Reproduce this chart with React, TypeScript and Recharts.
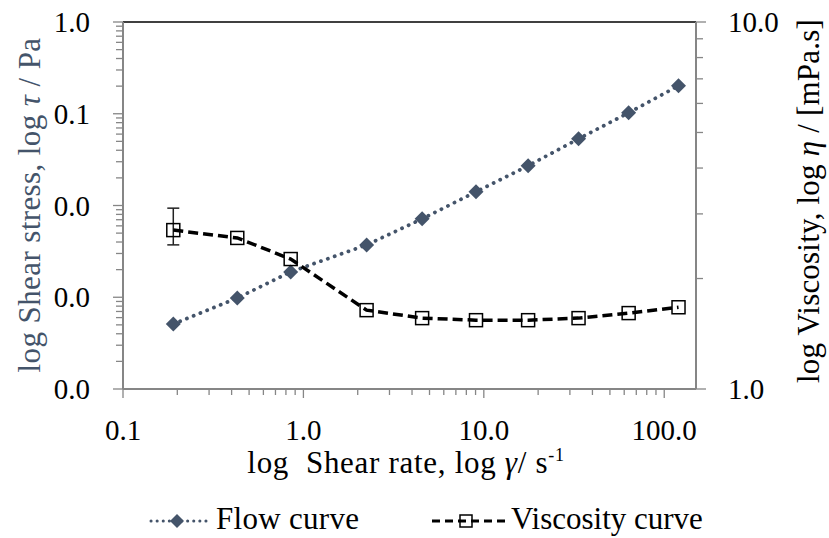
import React from 'react'
import { ComposedChart, Line, XAxis, YAxis, ErrorBar, ReferenceLine } from 'recharts'

// measured points, shared x values for both curves
const shearRate = [0.19, 0.43, 0.85, 2.24, 4.55, 9.05, 17.6, 33.5, 63.5, 120]
const shearStress = [0.00051, 0.00098, 0.00189, 0.00372, 0.00715, 0.0141, 0.0271, 0.0533, 0.1025, 0.2018]
const viscosity = [2.71, 2.58, 2.26, 1.64, 1.56, 1.54, 1.54, 1.56, 1.61, 1.67]
// [below, above] error for the viscosity points (only the first one has a bar)
const viscosityError: (number[] | null)[] = [[0.24, 0.4], null, null, null, null, null, null, null, null, null]

const xMajor = [0.1, 1, 10, 100]
const stressMajor = [0.0001, 0.001, 0.01, 0.1, 1]
const viscMajor = [1, 10]
const minorSteps = [2, 3, 4, 5, 6, 7, 8, 9]

const FONT = '"Palatino Linotype", "Book Antiqua", Palatino, "Liberation Serif", serif'
const AXIS = '#868686'
const FLOW = '#44546A'

const withMinor = (majors: number[], max: number) => {
  const out: number[] = []
  majors.forEach((m) => {
    out.push(m)
    minorSteps.forEach((s) => {
      const v = m * s
      if (v < max) out.push(v)
    })
  })
  return out.filter((v) => v <= max)
}

const xTicks = withMinor(xMajor, 150)
const stressTicks = withMinor(stressMajor, 1)
const viscTicks = withMinor(viscMajor, 10)

const data = shearRate.map((x, i) => ({
  rate: x,
  stress: shearStress[i],
  visc: viscosity[i],
  viscErr: viscosityError[i],
}))

const isMajor = (list: number[], v: number) => list.some((m) => Math.abs(m - v) / m < 1e-9)

const BottomTick = (props: any) => {
  const { x, y, payload } = props
  const major = isMajor(xMajor, payload.value)
  return (
    <g>
      <line x1={x} x2={x} y1={y} y2={y + (major ? 9 : 6)} stroke={AXIS} strokeWidth={1.3} />
      {major && (
        <text x={x} y={y + 51} textAnchor="middle" fontFamily={FONT} fontSize={29} fill="#000">
          {payload.value.toFixed(1)}
        </text>
      )}
    </g>
  )
}

const LeftTick = (props: any) => {
  const { x, y, payload } = props
  const major = isMajor(stressMajor, payload.value)
  return (
    <g>
      <line x1={x - (major ? 10 : 7)} x2={x} y1={y} y2={y} stroke={AXIS} strokeWidth={1.3} />
      {major && (
        <text x={x - 33} y={y + 10} textAnchor="end" fontFamily={FONT} fontSize={29} fill="#000">
          {payload.value.toFixed(1)}
        </text>
      )}
    </g>
  )
}

const RightTick = (props: any) => {
  const { x, y, payload } = props
  const major = isMajor(viscMajor, payload.value)
  return (
    <g>
      <line x1={x} x2={x + (major ? 10 : 7)} y1={y} y2={y} stroke={AXIS} strokeWidth={1.3} />
      {major && (
        <text x={x + 32} y={y + 10} textAnchor="start" fontFamily={FONT} fontSize={29} fill="#000">
          {payload.value.toFixed(1)}
        </text>
      )}
    </g>
  )
}

const Diamond = ({ cx, cy, r = 7.5 }: { cx: number; cy: number; r?: number }) => (
  <path d={`M${cx},${cy - r}L${cx + r},${cy}L${cx},${cy + r}L${cx - r},${cy}Z`} fill={FLOW} />
)

const Square = ({ cx, cy, r = 6.5 }: { cx: number; cy: number; r?: number }) => (
  <rect x={cx - r} y={cy - r} width={r * 2} height={r * 2} fill="none" stroke="#000" strokeWidth={1.5} />
)

export default function App() {
  return (
    <div style={{ position: 'absolute', left: 0, top: 0, width: 829, height: 538, background: '#fff' }}>
      <ComposedChart width={829} height={538} data={data} margin={{ top: 22, right: 0, bottom: 0, left: 0 }}>
        <XAxis
          dataKey="rate"
          type="number"
          scale="log"
          domain={[0.1, 150]}
          allowDataOverflow
          ticks={xTicks}
          interval={0}
          tick={<BottomTick />}
          tickLine={false}
          tickSize={0}
          tickMargin={0}
          height={149}
          axisLine={{ stroke: AXIS, strokeWidth: 2 }}
        />
        <YAxis
          yAxisId="left"
          type="number"
          scale="log"
          domain={[0.0001, 1]}
          allowDataOverflow
          ticks={stressTicks}
          interval={0}
          tick={<LeftTick />}
          tickLine={false}
          tickSize={0}
          tickMargin={0}
          width={123}
          axisLine={{ stroke: AXIS, strokeWidth: 2 }}
        />
        <YAxis
          yAxisId="right"
          orientation="right"
          type="number"
          scale="log"
          domain={[1, 10]}
          allowDataOverflow
          ticks={viscTicks}
          interval={0}
          tick={<RightTick />}
          tickLine={false}
          tickSize={0}
          tickMargin={0}
          width={133}
          axisLine={{ stroke: AXIS, strokeWidth: 2 }}
        />
        <ReferenceLine yAxisId="left" y={1} stroke="#000" strokeWidth={1.5} />
        <Line
          yAxisId="left"
          dataKey="stress"
          stroke={FLOW}
          strokeWidth={3.8}
          strokeDasharray="0.1 7.2"
          strokeLinecap="round"
          isAnimationActive={false}
          dot={(p: any) => <Diamond key={`d${p.index}`} cx={p.cx} cy={p.cy} />}
          activeDot={false}
        />
        <Line
          yAxisId="right"
          dataKey="visc"
          stroke="#000"
          strokeWidth={3.5}
          strokeDasharray="10 5"
          isAnimationActive={false}
          dot={(p: any) => <Square key={`s${p.index}`} cx={p.cx} cy={p.cy} />}
          activeDot={false}
        >
          <ErrorBar dataKey="viscErr" direction="y" width={6} stroke="#222" strokeWidth={1.5} isAnimationActive={false} />
        </Line>
      </ComposedChart>

      {/* axis titles and legend */}
      <svg
        width={829}
        height={538}
        style={{ position: 'absolute', left: 0, top: 0, pointerEvents: 'none' }}
        fontFamily={FONT}
        fontSize={31}
      >
        <text transform="translate(40,205) rotate(-90)" textAnchor="middle" fill={FLOW} letterSpacing={0.4}>
          log Shear stress, log <tspan fontStyle="italic">τ</tspan> / Pa
        </text>
        <text transform="translate(819,201) rotate(-90)" textAnchor="middle" fill="#000" letterSpacing={0.2}>
          log Viscosity, log <tspan fontStyle="italic">η</tspan> / [mPa.s]
        </text>
        <text x={406} y={473} textAnchor="middle" fill="#000" letterSpacing={0.7}>
          {'log\u00a0 Shear rate, log '}
          <tspan fontStyle="italic">γ</tspan>/ s<tspan fontSize={18} dy={-12}>-1</tspan>
        </text>

        <line x1={151} x2={211} y1={521} y2={521} stroke={FLOW} strokeWidth={3} strokeDasharray="0.1 6" strokeLinecap="round" />
        <Diamond cx={177} cy={521} r={7} />
        <text x={216} y={529} fill="#000" letterSpacing={0.3}>Flow curve</text>

        <line x1={432} x2={507} y1={521} y2={521} stroke="#000" strokeWidth={3} strokeDasharray="8 5" />
        <Square cx={466} cy={521} r={6} />
        <text x={511} y={529} fill="#000">Viscosity curve</text>
      </svg>
    </div>
  )
}
